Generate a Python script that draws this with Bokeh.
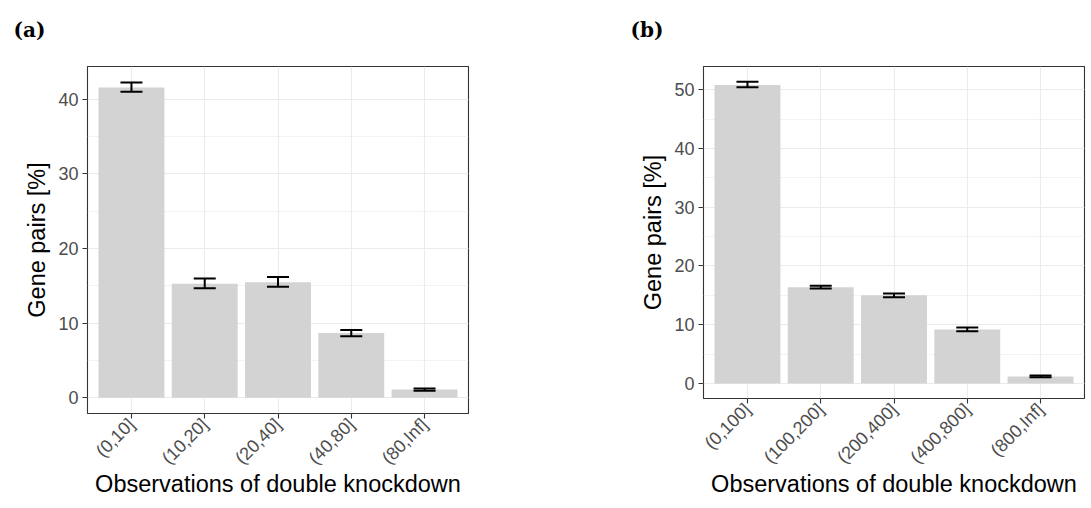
import math
from bokeh.plotting import figure
from bokeh.models import (FactorRange, Range1d, SingleIntervalTicker, Whisker,
                          TeeHead, ColumnDataSource, Title)
from bokeh.embed import file_html
from bokeh.resources import INLINE

# ---- data ----
cats_a = ["(0,10]", "(10,20]", "(20,40]", "(40,80]", "(80,Inf]"]
vals_a = [41.6, 15.3, 15.5, 8.7, 1.1]
lo_a = [41.0, 14.7, 14.9, 8.25, 0.95]
hi_a = [42.25, 16.0, 16.2, 9.1, 1.25]

cats_b = ["(0,100]", "(100,200]", "(200,400]", "(400,800]", "(800,Inf]"]
vals_b = [50.8, 16.4, 15.0, 9.2, 1.2]
lo_b = [50.4, 16.15, 14.7, 8.9, 1.05]
hi_b = [51.35, 16.65, 15.3, 9.55, 1.35]

x_label = "Observations of double knockdown"
y_label = "Gene pairs [%]"

H = 508


def panel(tag, tag_x, cats, vals, lo, hi, yr, width, bl, br, bt, bb, x_so):
    src = ColumnDataSource(dict(x=cats, top=vals, lo=lo, hi=hi))
    p = figure(width=width, height=H, output_backend="svg", toolbar_location=None,
               title=None,
               x_range=FactorRange(factors=cats, range_padding=0.1,
                                   range_padding_units="absolute"),
               y_range=Range1d(*yr),
               min_border_left=bl, min_border_right=br,
               min_border_top=bt, min_border_bottom=bb)
    p.background_fill_color = "white"
    p.border_fill_color = "white"
    p.outline_line_color = "#333333"
    p.outline_line_width = 1.1

    p.vbar(x="x", top="top", bottom=0, width=0.9, source=src,
           fill_color="#D3D3D3", line_color=None)
    w = Whisker(base="x", lower="lo", upper="hi", source=src,
                line_color="black", line_width=2, level="overlay",
                upper_head=TeeHead(size=22, line_color="black", line_width=2),
                lower_head=TeeHead(size=22, line_color="black", line_width=2))
    p.add_layout(w)

    p.yaxis.ticker = SingleIntervalTicker(interval=10, num_minor_ticks=2)
    for ax in (p.xaxis[0], p.yaxis[0]):
        ax.axis_line_color = None
        ax.major_tick_line_color = "#333333"
        ax.major_tick_line_width = 1.1
        ax.major_tick_in = 0
        ax.major_tick_out = 5
        ax.minor_tick_line_color = None
        ax.major_label_text_color = "#4D4D4D"
        ax.major_label_text_font = "Liberation Sans"
        ax.major_label_text_font_size = "18px"
        ax.axis_label_text_font = "Liberation Sans"
        ax.axis_label_text_font_size = "23.5px"
        ax.axis_label_text_font_style = "normal"
        ax.axis_label_text_color = "black"
        ax.major_label_standoff = 4
        ax.axis_label_standoff = 5
    p.xaxis.axis_label = x_label
    p.yaxis.axis_label = y_label
    p.xaxis.major_label_orientation = math.pi / 4
    p.xaxis.major_label_standoff = 3
    p.xaxis.axis_label_standoff = x_so

    p.xgrid.grid_line_color = "#EBEBEB"
    p.xgrid.grid_line_width = 1.1
    p.ygrid.grid_line_color = "#EBEBEB"
    p.ygrid.grid_line_width = 1.1
    p.ygrid.minor_grid_line_color = "#EBEBEB"
    p.ygrid.minor_grid_line_width = 0.6

    # spacer next to the frame, then the panel tag above it
    p.add_layout(Title(text=" ", text_font_size="2px", standoff=6), "above")
    p.add_layout(Title(text=tag, align="left", offset=-(bl - tag_x),
                       vertical_align="top", standoff=26,
                       text_font="DejaVu Serif", text_font_style="bold",
                       text_font_size="20px", text_color="black"), "above")
    return p


pa = panel("(a)", 13, cats_a, vals_a, lo_a, hi_a, (-2.1, 44.4),
           545, 87, 77, 66, 95, -7)
pb = panel("(b)", 85, cats_b, vals_b, lo_b, hi_b, (-2.55, 53.95),
           546, 158, 7, 66, 110, -6)

# each panel is its own root, laid side by side, so their frames are independent
template = """
{% block contents %}
<div style="display:flex;flex-direction:row;align-items:flex-start;">
{{ super() }}
</div>
{% endblock %}
"""
open("out.html", "w").write(file_html([pa, pb], INLINE, template=template))
